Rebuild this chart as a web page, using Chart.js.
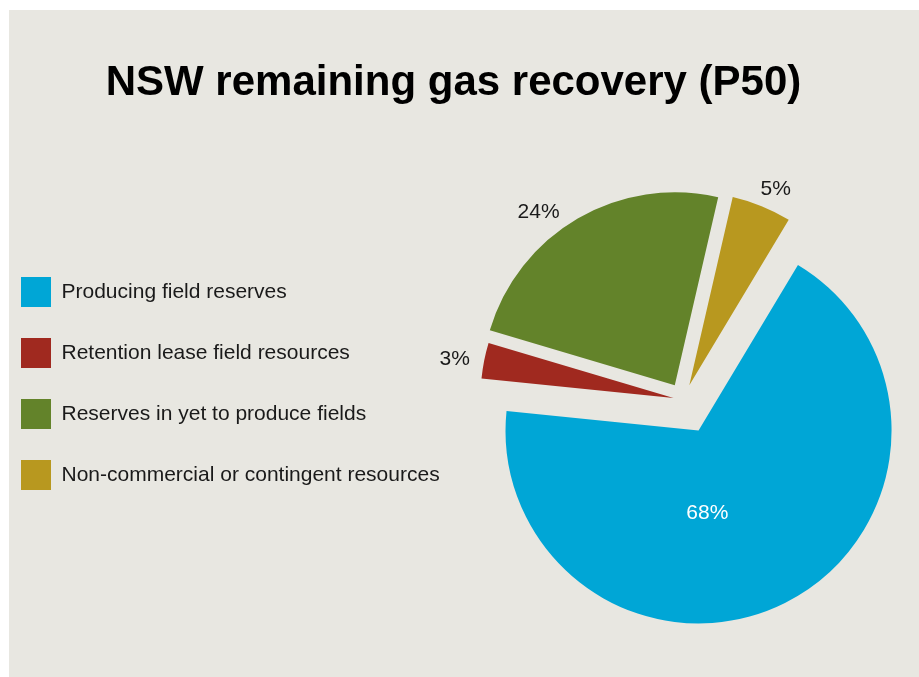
<!DOCTYPE html>
<html>
<head>
<meta charset="utf-8">
<title>NSW remaining gas recovery (P50)</title>
<script src="https://cdn.jsdelivr.net/npm/chart.js@4.4.1/dist/chart.umd.min.js"></script>
<style>
  html, body { margin: 0; padding: 0; background: #fff; }
  #wrap { position: relative; width: 919px; height: 677px; overflow: hidden; }
  #fundo { position: absolute; left: 9px; top: 10px; right: 0; bottom: 0; background: #e8e7e1; }
  #pieChart { position: absolute; left: 0; top: 0; }
</style>
</head>
<body>
<div id="wrap">
  <div id="fundo"></div>
  <canvas id="pieChart" width="919" height="677"></canvas>
</div>
<script>
  // dados
  const categories = [
    'Producing field reserves',
    'Retention lease field resources',
    'Reserves in yet to produce fields',
    'Non-commercial or contingent resources'
  ];
  const shares = [68, 3, 24, 5];
  const sliceColors = ['#00a6d6', '#a0291f', '#63832a', '#b8981f'];

  // fatias destacadas: move cada fatia ao longo do seu angulo medio
  const explodePlugin = {
    id: 'explode',
    afterDatasetsUpdate(chart, args, opts) {
      const area = chart.chartArea;
      const cx = (area.left + area.right) / 2;
      const cy = (area.top + area.bottom) / 2;
      chart.getDatasetMeta(0).data.forEach((arc, i) => {
        const d = opts.distance[i] || 0;
        const mid = (arc.startAngle + arc.endAngle) / 2;
        arc.x = cx + Math.cos(mid) * d;
        arc.y = cy + Math.sin(mid) * d;
      });
    }
  };

  // rotulos de percentual
  const sliceLabels = {
    id: 'sliceLabels',
    afterDatasetsDraw(chart, args, opts) {
      const ctx = chart.ctx;
      const values = chart.data.datasets[0].data;
      ctx.save();
      ctx.font = opts.font;
      ctx.textAlign = 'center';
      ctx.textBaseline = 'middle';
      chart.getDatasetMeta(0).data.forEach((arc, i) => {
        const ang = (arc.startAngle + arc.endAngle) / 2 + opts.turn[i] * Math.PI / 180;
        const r = arc.outerRadius * opts.distance[i];
        ctx.fillStyle = opts.color[i];
        ctx.fillText(values[i] + '%', arc.x + Math.cos(ang) * r, arc.y + Math.sin(ang) * r);
      });
      ctx.restore();
    }
  };

  Chart.defaults.font.family = '"Liberation Sans", Arial, Helvetica, sans-serif';

  const ctx = document.getElementById('pieChart').getContext('2d');
  const chart = new Chart(ctx, {
    type: 'pie',
    data: {
      labels: categories,
      datasets: [{
        data: shares,
        backgroundColor: sliceColors,
        borderWidth: 0,
        clip: false
      }]
    },
    options: {
      responsive: false,
      animation: false,
      rotation: 31,
      radius: 193,
      layout: {
        padding: { left: -10, right: 2, top: 0, bottom: 123 }
      },
      plugins: {
        title: {
          display: true,
          text: 'NSW remaining gas recovery (P50)',
          color: '#000',
          font: { size: 42, weight: 'bold', lineHeight: 1.2 },
          padding: { top: 58, bottom: 137.6 }
        },
        legend: {
          position: 'left',
          align: 'start',
          fullSize: false,
          labels: {
            boxWidth: 30,
            boxHeight: 30,
            padding: 31,
            color: '#1a1a1a',
            font: { size: 21 }
          }
        },
        tooltip: { enabled: false },
        explode: {
          distance: [34, 10, 17, 16]
        },
        sliceLabels: {
          font: '21px "Liberation Sans", Arial, Helvetica, sans-serif',
          distance: [0.43, 1.151, 1.141, 1.110],
          turn: [20.5, -1.2, -8, 1.8],
          color: ['#ffffff', '#1a1a1a', '#1a1a1a', '#1a1a1a']
        }
      }
    },
    plugins: [explodePlugin, sliceLabels]
  });
</script>
</body>
</html>
